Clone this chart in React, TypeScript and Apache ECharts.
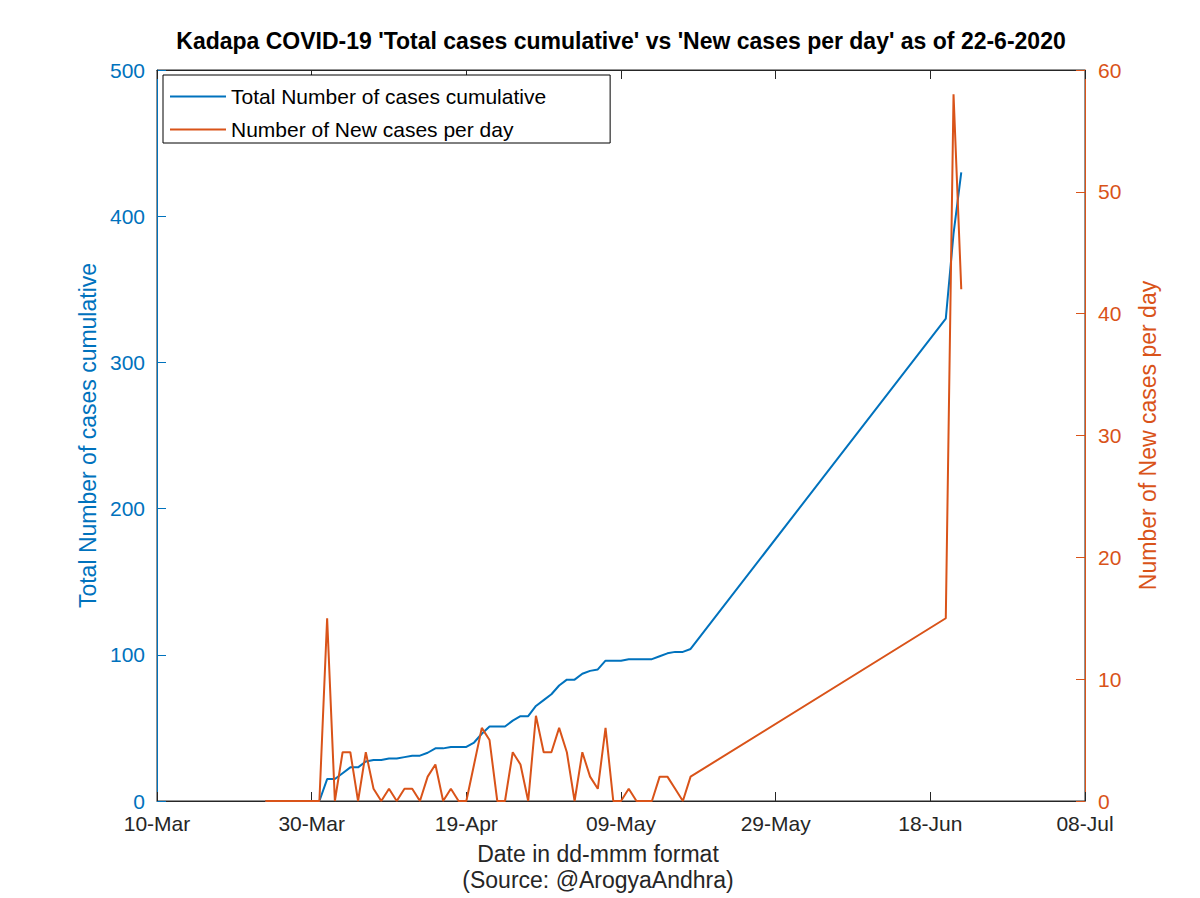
import React, { useEffect, useRef } from "react";
import * as echarts from "echarts";

const dates: string[] = [
  "2020-03-24", "2020-03-25", "2020-03-26", "2020-03-27", "2020-03-28", "2020-03-29", "2020-03-30", "2020-03-31",
  "2020-04-01", "2020-04-02", "2020-04-03", "2020-04-04", "2020-04-05", "2020-04-06", "2020-04-07", "2020-04-08",
  "2020-04-09", "2020-04-10", "2020-04-11", "2020-04-12", "2020-04-13", "2020-04-14", "2020-04-15", "2020-04-16",
  "2020-04-17", "2020-04-18", "2020-04-19", "2020-04-20", "2020-04-21", "2020-04-22", "2020-04-23", "2020-04-24",
  "2020-04-25", "2020-04-26", "2020-04-27", "2020-04-28", "2020-04-29", "2020-04-30",
  "2020-05-01", "2020-05-02", "2020-05-03", "2020-05-04", "2020-05-05", "2020-05-06", "2020-05-07", "2020-05-08",
  "2020-05-09", "2020-05-10", "2020-05-11", "2020-05-12", "2020-05-13", "2020-05-14", "2020-05-15", "2020-05-16",
  "2020-05-17", "2020-05-18",
  "2020-06-20", "2020-06-21", "2020-06-22",
];

const totalCases: number[] = [
  0, 0, 0, 0, 0, 0, 0, 0,
  15, 15, 19, 23, 23, 27, 28, 28,
  29, 29, 30, 31, 31, 33, 36, 36,
  37, 37, 37, 40, 46, 51, 51, 51,
  55, 58, 58, 65, 69, 73,
  79, 83, 83, 87, 89, 90, 96, 96,
  96, 97, 97, 97, 97, 99, 101, 102,
  102, 104,
  330, 388, 430,
];

const newCases: number[] = [
  0, 0, 0, 0, 0, 0, 0, 0,
  15, 0, 4, 4, 0, 4, 1, 0,
  1, 0, 1, 1, 0, 2, 3, 0,
  1, 0, 0, 3, 6, 5, 0, 0,
  4, 3, 0, 7, 4, 4,
  6, 4, 0, 4, 2, 1, 6, 0,
  0, 1, 0, 0, 0, 2, 2, 1,
  0, 2,
  15, 58, 42,
];

const xStartDate = "2020-03-10";
const xEndDate = "2020-07-08";
const xTickDays = 20;
const leftTicks = { min: 0, max: 500, interval: 100 };
const rightTicks = { min: 0, max: 60, interval: 10 };
const titleText = "Kadapa COVID-19 'Total cases cumulative' vs 'New cases per day' as of 22-6-2020";

const MONTHS = ["Jan", "Feb", "Mar", "Apr", "May", "Jun", "Jul", "Aug", "Sep", "Oct", "Nov", "Dec"];
const DAY = 86400000;
const baseMs = Date.parse(xStartDate + "T00:00:00Z");
const dayIndex = (d: string) => Math.round((Date.parse(d + "T00:00:00Z") - baseMs) / DAY);
const fmt = (v: number) => {
  const dt = new Date(baseMs + v * DAY);
  const dd = String(dt.getUTCDate()).padStart(2, "0");
  return dd + "-" + MONTHS[dt.getUTCMonth()];
};

const BLUE = "#0072BD";
const ORANGE = "#D95319";
const DARK = "#262626";
const FONT = "'Liberation Sans', Arial, Helvetica, sans-serif";

export default function App() {
  const ref = useRef<HTMLDivElement>(null);
  useEffect(() => {
    document.body.style.margin = "0";
    const chart = echarts.init(ref.current!, undefined, { renderer: "svg" });
    const xMax = dayIndex(xEndDate);
    const tickLen = 9;
    chart.setOption({
      animation: false,
      backgroundColor: "#ffffff",
      textStyle: { fontFamily: FONT },
      graphic: [
        {
          type: "text",
          x: 621,
          y: 41,
          z: 100,
          style: {
            text: titleText,
            align: "center",
            verticalAlign: "middle",
            fill: "#000",
            fontFamily: FONT,
            fontWeight: "bold",
            fontSize: 23,
          },
        },
      ],
      legend: {
        left: 163,
        top: 75,
        orient: "vertical",
        padding: [11, 64, 3, 7],
        itemGap: 12,
        itemWidth: 56,
        itemHeight: 2,
        borderColor: "#000",
        borderWidth: 1,
        backgroundColor: "#fff",
        data: [
          { name: "Total Number of cases cumulative", icon: "rect" },
          { name: "Number of New cases per day", icon: "rect" },
        ],
        textStyle: { fontSize: 21, color: "#000", fontFamily: FONT },
      },
      grid: {
        left: 157,
        right: 115,
        top: 70,
        bottom: 97,
        outerBoundsMode: "none",
        containLabel: false,
        show: true,
        borderColor: DARK,
        borderWidth: 1,
        backgroundColor: "#fff",
      },
      xAxis: [
        {
          type: "value",
          min: 0,
          max: xMax,
          interval: xTickDays,
          position: "bottom",
          axisLine: { onZero: false, lineStyle: { color: DARK, width: 1 } },
          axisTick: { inside: true, length: tickLen, lineStyle: { color: DARK } },
          axisLabel: { formatter: fmt, color: DARK, fontSize: 21, margin: 12, fontFamily: FONT },
          splitLine: { show: false },
          name: "Date in dd-mmm format\n(Source: @ArogyaAndhra)",
          nameLocation: "middle",
          nameGap: 40,
          nameTextStyle: { color: DARK, fontSize: 23, lineHeight: 26, padding: [0, 46, 0, 0], fontFamily: FONT },
        },
        {
          type: "value",
          min: 0,
          max: xMax,
          interval: xTickDays,
          position: "top",
          axisLine: { onZero: false, lineStyle: { color: DARK, width: 1 } },
          axisTick: { inside: true, length: tickLen, lineStyle: { color: DARK } },
          axisLabel: { show: false },
          splitLine: { show: false },
        },
      ],
      yAxis: [
        {
          type: "value",
          position: "left",
          min: leftTicks.min,
          max: leftTicks.max,
          interval: leftTicks.interval,
          axisLine: { show: true, onZero: false, lineStyle: { color: BLUE, width: 1 } },
          axisTick: { show: true, inside: true, length: tickLen, lineStyle: { color: BLUE } },
          axisLabel: { color: BLUE, fontSize: 21, margin: 12, fontFamily: FONT },
          splitLine: { show: false },
          name: "Total Number of cases cumulative",
          nameLocation: "middle",
          nameGap: 54,
          nameRotate: 90,
          nameTextStyle: { color: BLUE, fontSize: 23, fontFamily: FONT },
        },
        {
          type: "value",
          position: "right",
          min: rightTicks.min,
          max: rightTicks.max,
          interval: rightTicks.interval,
          axisLine: { show: true, onZero: false, lineStyle: { color: ORANGE, width: 1 } },
          axisTick: { show: true, inside: true, length: tickLen, lineStyle: { color: ORANGE } },
          axisLabel: { color: ORANGE, fontSize: 21, margin: 13, fontFamily: FONT },
          splitLine: { show: false },
          name: "Number of New cases per day",
          nameLocation: "middle",
          nameGap: 51,
          nameRotate: 90,
          nameTextStyle: { color: ORANGE, fontSize: 23, fontFamily: FONT },
        },
      ],
      series: [
        {
          name: "Total Number of cases cumulative",
          type: "line",
          xAxisIndex: 0,
          yAxisIndex: 0,
          showSymbol: false,
          color: BLUE,
          lineStyle: { color: BLUE, width: 2 },
          data: dates.map((d, i) => [dayIndex(d), totalCases[i]]),
        },
        {
          name: "Number of New cases per day",
          type: "line",
          xAxisIndex: 0,
          yAxisIndex: 1,
          showSymbol: false,
          color: ORANGE,
          lineStyle: { color: ORANGE, width: 2 },
          data: dates.map((d, i) => [dayIndex(d), newCases[i]]),
        },
      ],
    });
    return () => chart.dispose();
  }, []);
  return <div ref={ref} style={{ width: 1200, height: 898 }} />;
}
